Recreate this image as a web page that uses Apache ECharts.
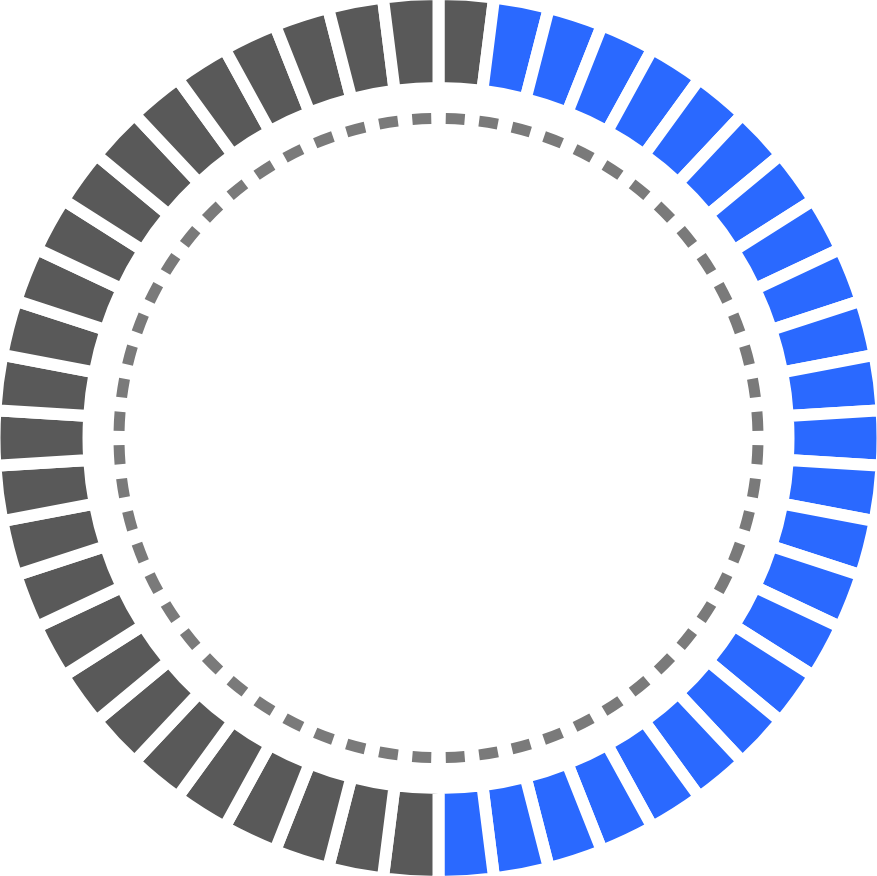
<!DOCTYPE html>
<html>
<head>
<meta charset="utf-8">
<script src="https://cdn.jsdelivr.net/npm/echarts@6/dist/echarts.min.js"></script>
<style>html,body{margin:0;padding:0;background:#fff;}#chart{width:877px;height:876px;}</style>
</head>
<body>
<div id="chart"></div>
<script>
// 50 equal ring segments, clockwise from 12 o'clock
const segmentValues = [1,1,1,1,1,1,1,1,1,1, 1,1,1,1,1,1,1,1,1,1, 1,1,1,1,1,1,1,1,1,1, 1,1,1,1,1,1,1,1,1,1, 1,1,1,1,1,1,1,1,1,1];
// 1 = highlighted (blue), 0 = inactive (gray)
const segmentActive = [0,1,1,1,1,1,1,1,1,1, 1,1,1,1,1,1,1,1,1,1, 1,1,1,1,1,0,0,0,0,0, 0,0,0,0,0,0,0,0,0,0, 0,0,0,0,0,0,0,0,0,0];
// 60 equal dashes of the inner ring
const dashValues = [1,1,1,1,1,1,1,1,1,1, 1,1,1,1,1,1,1,1,1,1, 1,1,1,1,1,1,1,1,1,1, 1,1,1,1,1,1,1,1,1,1, 1,1,1,1,1,1,1,1,1,1, 1,1,1,1,1,1,1,1,1,1];

const BLUE = '#2a69ff', GRAY = '#595959', DASH = '#7a7a7a';

const chart = echarts.init(document.getElementById('chart'), null, {renderer: 'canvas'});
chart.setOption({
  animation: false,
  backgroundColor: '#ffffff',
  series: [
    {
      type: 'pie',
      silent: true,
      center: ['50%', '50%'],
      radius: [350, 444],
      startAngle: 90,
      clockwise: true,
      label: {show: false},
      labelLine: {show: false},
      emphasis: {disabled: true},
      itemStyle: {borderColor: '#ffffff', borderWidth: 12},
      data: segmentValues.map((v, i) => ({
        value: v,
        itemStyle: {color: segmentActive[i] ? BLUE : GRAY}
      }))
    },
    {
      type: 'pie',
      silent: true,
      center: ['50%', '50%'],
      radius: [314, 325],
      startAngle: 90,
      clockwise: true,
      padAngle: 2.6,
      label: {show: false},
      labelLine: {show: false},
      emphasis: {disabled: true},
      itemStyle: {color: DASH, borderWidth: 0},
      data: dashValues.map(v => ({value: v}))
    }
  ]
});
</script>
</body>
</html>
